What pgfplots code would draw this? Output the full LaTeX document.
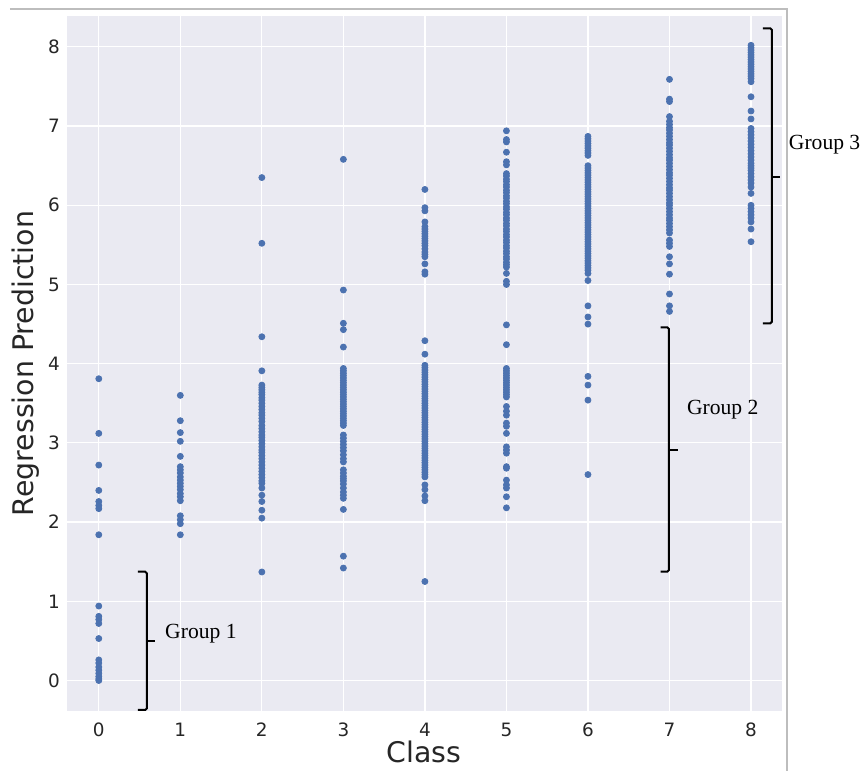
\documentclass[border=0pt]{standalone}
\usepackage{fontspec}
\setmainfont{DejaVu Sans}
\newfontfamily\grpfont{Liberation Serif}
\usepackage{pgfplots}
\pgfplotsset{compat=1.18}
\definecolor{sbbg}{HTML}{EAEAF2}
\definecolor{sbblue}{HTML}{4C72B0}
\definecolor{sbtext}{HTML}{262626}
\definecolor{framegray}{HTML}{BDBDBD}
\begin{document}
\begin{tikzpicture}
\useasboundingbox (-33.5pt,-30pt) rectangle (398pt,355.5pt);
\draw[framegray, line width=0.6pt] (-28.5pt,351pt) -- (360pt,351pt) -- (360pt,-30pt);
\begin{axis}[
 at={(0,0)}, anchor=south west,
 scale only axis, width=357.5pt, height=347.5pt,
 xmin=-0.39, xmax=8.38, ymin=-0.385, ymax=8.39,
 axis background/.style={fill=sbbg},
 axis line style={draw=none},
 major tick length=0pt,
 xtick={0,...,8}, ytick={0,...,8},
 grid=major, major grid style={white, line width=0.6pt},
 tick label style={font=\fontsize{9.2}{11}\selectfont, text=sbtext},
 /pgf/number format/assume math mode=true,
 xticklabel style={yshift=-2.5pt},
 xlabel={Class}, ylabel={Regression Prediction},
 label style={font=\fontsize{14.2}{17}\selectfont, text=sbtext},
 xlabel style={at={(axis description cs:0.499,-0.059)}, anchor=center},
 ylabel style={at={(axis description cs:-0.058,0.5)}, anchor=center},
 clip=false,
]
\addplot[only marks, mark=*, mark size=1.5pt, color=sbblue, mark options={draw=sbblue, fill=sbblue}] coordinates {
(0,3.81) (0,3.12) (0,2.72) (0,2.40) (0,2.26) (0,2.21) (0,2.17) (0,1.84) (0,0.94) (0,0.81) (0,0.77) (0,0.72) (0,0.53) (0,0.26) (0,0.22) (0,0.17) (0,0.13) (0,0.09) (0,0.05) (0,0.02) (0,0.00)
(1,3.60) (1,3.28) (1,3.13) (1,3.02) (1,2.83) (1,2.70) (1,2.66) (1,2.62) (1,2.57) (1,2.53) (1,2.49) (1,2.45) (1,2.41) (1,2.36) (1,2.32) (1,2.27) (1,2.08) (1,2.03) (1,1.98) (1,1.84)
(2,6.35) (2,5.52) (2,4.34) (2,3.91) (2,3.73) (2,3.70) (2,3.67) (2,3.64) (2,3.61) (2,3.57) (2,3.54) (2,3.50) (2,3.46) (2,3.42) (2,3.38) (2,3.35) (2,3.31) (2,3.27) (2,3.22) (2,3.18) (2,3.14) (2,3.10) (2,3.07) (2,3.03) (2,2.99) (2,2.95) (2,2.91) (2,2.88) (2,2.84) (2,2.80) (2,2.76) (2,2.72) (2,2.68) (2,2.64) (2,2.60) (2,2.56) (2,2.52) (2,2.49) (2,2.43) (2,2.34) (2,2.26) (2,2.15) (2,2.05) (2,1.37)
(3,6.58) (3,4.93) (3,4.51) (3,4.43) (3,4.21) (3,3.94) (3,3.91) (3,3.88) (3,3.85) (3,3.82) (3,3.79) (3,3.76) (3,3.73) (3,3.70) (3,3.67) (3,3.64) (3,3.61) (3,3.58) (3,3.55) (3,3.52) (3,3.49) (3,3.46) (3,3.43) (3,3.40) (3,3.37) (3,3.34) (3,3.31) (3,3.28) (3,3.25) (3,3.22) (3,3.10) (3,3.06) (3,3.02) (3,2.98) (3,2.94) (3,2.90) (3,2.85) (3,2.80) (3,2.76) (3,2.66) (3,2.62) (3,2.58) (3,2.55) (3,2.52) (3,2.48) (3,2.43) (3,2.38) (3,2.34) (3,2.30) (3,2.16) (3,1.57) (3,1.42)
(4,6.20) (4,5.97) (4,5.93) (4,5.79) (4,5.73) (4,5.70) (4,5.67) (4,5.64) (4,5.61) (4,5.58) (4,5.55) (4,5.52) (4,5.49) (4,5.45) (4,5.41) (4,5.38) (4,5.35) (4,5.26) (4,5.16) (4,5.13) (4,4.29) (4,4.12) (4,3.98) (4,3.95) (4,3.92) (4,3.89) (4,3.86) (4,3.83) (4,3.80) (4,3.77) (4,3.74) (4,3.71) (4,3.68) (4,3.65) (4,3.62) (4,3.59) (4,3.56) (4,3.53) (4,3.50) (4,3.47) (4,3.44) (4,3.41) (4,3.38) (4,3.35) (4,3.32) (4,3.29) (4,3.26) (4,3.23) (4,3.20) (4,3.17) (4,3.14) (4,3.11) (4,3.08) (4,3.05) (4,3.02) (4,2.99) (4,2.96) (4,2.93) (4,2.90) (4,2.87) (4,2.84) (4,2.81) (4,2.78) (4,2.75) (4,2.72) (4,2.69) (4,2.66) (4,2.63) (4,2.60) (4,2.57) (4,2.47) (4,2.41) (4,2.33) (4,2.27) (4,1.25)
(5,6.94) (5,6.83) (5,6.80) (5,6.67) (5,6.55) (5,6.51) (5,6.40) (5,6.37) (5,6.33) (5,6.30) (5,6.26) (5,6.23) (5,6.19) (5,6.16) (5,6.12) (5,6.09) (5,6.05) (5,6.02) (5,5.98) (5,5.95) (5,5.91) (5,5.88) (5,5.84) (5,5.81) (5,5.77) (5,5.74) (5,5.70) (5,5.67) (5,5.63) (5,5.60) (5,5.56) (5,5.53) (5,5.49) (5,5.46) (5,5.42) (5,5.39) (5,5.35) (5,5.32) (5,5.28) (5,5.25) (5,5.22) (5,5.14) (5,5.04) (5,5.00) (5,4.49) (5,4.24) (5,3.94) (5,3.91) (5,3.88) (5,3.85) (5,3.82) (5,3.79) (5,3.76) (5,3.73) (5,3.70) (5,3.67) (5,3.64) (5,3.61) (5,3.58) (5,3.46) (5,3.40) (5,3.35) (5,3.25) (5,3.21) (5,3.12) (5,2.95) (5,2.91) (5,2.87) (5,2.70) (5,2.68) (5,2.53) (5,2.47) (5,2.43) (5,2.32) (5,2.18)
(6,6.87) (6,6.84) (6,6.81) (6,6.78) (6,6.75) (6,6.72) (6,6.69) (6,6.66) (6,6.63) (6,6.50) (6,6.47) (6,6.44) (6,6.41) (6,6.38) (6,6.35) (6,6.32) (6,6.29) (6,6.26) (6,6.23) (6,6.20) (6,6.17) (6,6.14) (6,6.11) (6,6.08) (6,6.05) (6,6.02) (6,5.99) (6,5.96) (6,5.93) (6,5.90) (6,5.87) (6,5.84) (6,5.81) (6,5.78) (6,5.75) (6,5.72) (6,5.69) (6,5.66) (6,5.63) (6,5.60) (6,5.57) (6,5.54) (6,5.51) (6,5.48) (6,5.45) (6,5.42) (6,5.39) (6,5.36) (6,5.33) (6,5.30) (6,5.27) (6,5.24) (6,5.21) (6,5.18) (6,5.14) (6,5.05) (6,4.73) (6,4.59) (6,4.50) (6,3.84) (6,3.73) (6,3.54) (6,2.60)
(7,7.59) (7,7.34) (7,7.31) (7,7.12) (7,7.06) (7,7.02) (7,6.98) (7,6.95) (7,6.91) (7,6.87) (7,6.83) (7,6.79) (7,6.76) (7,6.72) (7,6.68) (7,6.64) (7,6.60) (7,6.57) (7,6.53) (7,6.49) (7,6.45) (7,6.41) (7,6.38) (7,6.34) (7,6.30) (7,6.26) (7,6.22) (7,6.19) (7,6.15) (7,6.11) (7,6.07) (7,6.03) (7,6.00) (7,5.96) (7,5.92) (7,5.88) (7,5.84) (7,5.81) (7,5.77) (7,5.73) (7,5.69) (7,5.65) (7,5.56) (7,5.52) (7,5.48) (7,5.35) (7,5.26) (7,5.13) (7,4.88) (7,4.73) (7,4.66)
(8,8.02) (8,7.99) (8,7.96) (8,7.93) (8,7.90) (8,7.87) (8,7.84) (8,7.81) (8,7.78) (8,7.75) (8,7.72) (8,7.69) (8,7.66) (8,7.63) (8,7.60) (8,7.56) (8,7.37) (8,7.19) (8,7.09) (8,6.97) (8,6.93) (8,6.89) (8,6.85) (8,6.81) (8,6.77) (8,6.73) (8,6.69) (8,6.65) (8,6.61) (8,6.57) (8,6.53) (8,6.50) (8,6.47) (8,6.44) (8,6.40) (8,6.36) (8,6.32) (8,6.28) (8,6.23) (8,6.15) (8,6.00) (8,5.96) (8,5.92) (8,5.88) (8,5.84) (8,5.79) (8,5.70) (8,5.54)
};
% brackets
\draw[black, line width=1pt, rounded corners=0.8pt] (axis cs:0.478,1.374) -- (axis cs:0.589,1.374) -- (axis cs:0.589,-0.372) -- (axis cs:0.478,-0.372);
\draw[black, line width=1pt] (axis cs:0.589,0.499) -- (axis cs:0.687,0.499);
\node[anchor=west, inner sep=0pt, font=\grpfont\fontsize{10.8}{13}\selectfont] at (axis cs:0.81,0.587) {Group 1};
\draw[black, line width=1pt, rounded corners=0.8pt] (axis cs:6.89,4.46) -- (axis cs:6.993,4.46) -- (axis cs:6.993,1.374) -- (axis cs:6.89,1.374);
\draw[black, line width=1pt] (axis cs:6.993,2.91) -- (axis cs:7.10,2.91);
\node[anchor=west, inner sep=0pt, font=\grpfont\fontsize{10.8}{13}\selectfont] at (axis cs:7.21,3.415) {Group 2};
\draw[black, line width=1pt, rounded corners=0.8pt] (axis cs:8.146,8.235) -- (axis cs:8.256,8.235) -- (axis cs:8.256,4.51) -- (axis cs:8.146,4.51);
\draw[black, line width=1pt] (axis cs:8.256,6.36) -- (axis cs:8.35,6.36);
\node[anchor=west, inner sep=0pt, font=\grpfont\fontsize{10.8}{13}\selectfont] at (axis cs:8.46,6.76) {Group 3};
\end{axis}
\end{tikzpicture}
\end{document}
